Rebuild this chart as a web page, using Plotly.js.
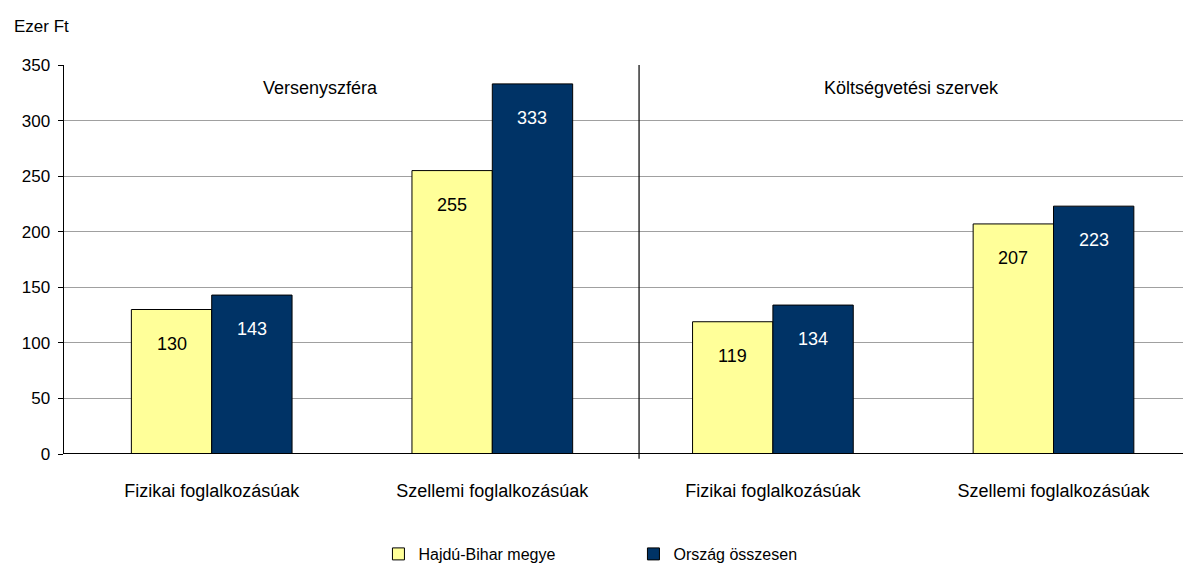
<!DOCTYPE html>
<html>
<head>
<meta charset="utf-8">
<script src="https://cdn.plot.ly/plotly-3.0.1.min.js"></script>
<style>html,body{margin:0;padding:0;background:#fff;}#chart{width:1183px;height:571px;}</style>
</head>
<body>
<div id="chart"></div>
<script>
var categories = ["Fizikai foglalkozásúak", "Szellemi foglalkozásúak", "Fizikai foglalkozásúak", "Szellemi foglalkozásúak"];
var sectors = ["Versenyszféra", "Költségvetési szervek"];
var hajduBihar = [130, 255, 119, 207];
var orszag = [143, 333, 134, 223];
var seriesNames = ["Hajdú-Bihar megye", "Ország összesen"];
var yTicks = [0, 50, 100, 150, 200, 250, 300, 350];

var ARIAL = 'Arial, "Liberation Sans", sans-serif';
var xs = categories.map(function(_, i){ return i; });
var groupW = 0.5727;
var off = groupW / 4;

var traces = [
  {type: 'bar', name: seriesNames[0], x: xs, y: hajduBihar,
   marker: {color: '#FFFF99', line: {color: '#000000', width: 1}}, hoverinfo: 'y'},
  {type: 'bar', name: seriesNames[1], x: xs, y: orszag,
   marker: {color: '#003366', line: {color: '#000000', width: 1}}, hoverinfo: 'y'}
];

var annotations = [];
xs.forEach(function(i){
  annotations.push({x: i - off, y: hajduBihar[i], xref: 'x', yref: 'y', text: String(hajduBihar[i]),
    showarrow: false, yshift: -34, yanchor: 'middle', font: {family: ARIAL, size: 18, color: '#000000'}});
  annotations.push({x: i + off, y: orszag[i], xref: 'x', yref: 'y', text: String(orszag[i]),
    showarrow: false, yshift: -34, yanchor: 'middle', font: {family: ARIAL, size: 18, color: '#FFFFFF'}});
});
annotations.push({x: 0.388, y: 0.941, xref: 'x', yref: 'paper', text: sectors[0], showarrow: false,
  xanchor: 'center', yanchor: 'middle', font: {family: ARIAL, size: 18, color: '#000'}});
annotations.push({x: 2.495, y: 0.941, xref: 'x', yref: 'paper', text: sectors[1], showarrow: false,
  xanchor: 'center', yanchor: 'middle', font: {family: ARIAL, size: 18, color: '#000'}});
annotations.push({x: -0.0465, y: 1.1, xref: 'paper', yref: 'paper', text: 'Ezer Ft', showarrow: false,
  xanchor: 'left', yanchor: 'middle', font: {family: ARIAL, size: 17, color: '#000'}});

var layout = {
  width: 1183, height: 571,
  margin: {l: 64, r: 0, t: 65, b: 116},
  paper_bgcolor: '#ffffff', plot_bgcolor: '#ffffff',
  barmode: 'group', bargap: 1 - groupW, bargroupgap: 0,
  showlegend: true,
  legend: {orientation: 'h', x: 0.281, xanchor: 'left', y: -0.257, yanchor: 'middle',
    entrywidth: 210, entrywidthmode: 'pixels', itemwidth: 30,
    font: {family: ARIAL, size: 16, color: '#000'}, bgcolor: 'rgba(0,0,0,0)'},
  xaxis: {range: [-0.5264, 3.4615], tickvals: xs, ticktext: categories, ticks: '',
    showgrid: false, zeroline: false, showline: false, ticklabelstandoff: 24,
    tickfont: {family: ARIAL, size: 18, color: '#000'}, fixedrange: true},
  yaxis: {range: [0, 350], tickvals: yTicks, ticks: 'outside', ticklen: 5, tickcolor: '#000', tickwidth: 1,
    showgrid: true, gridcolor: '#a0a0a0', gridwidth: 1, zeroline: false,
    showline: true, linecolor: '#000', linewidth: 1.5, ticklabelstandoff: 4,
    tickfont: {family: ARIAL, size: 17, color: '#000'}, fixedrange: true},
  shapes: [
    {type: 'line', xref: 'x', yref: 'paper', x0: 1.523, x1: 1.523, y0: -0.012, y1: 1, line: {color: '#000', width: 1.2}},
    {type: 'line', xref: 'paper', yref: 'y', x0: 0, x1: 1, y0: 0, y1: 0, line: {color: '#000', width: 2}}
  ],
  annotations: annotations
};

Plotly.newPlot('chart', traces, layout, {displayModeBar: false, staticPlot: true});
</script>
</body>
</html>
